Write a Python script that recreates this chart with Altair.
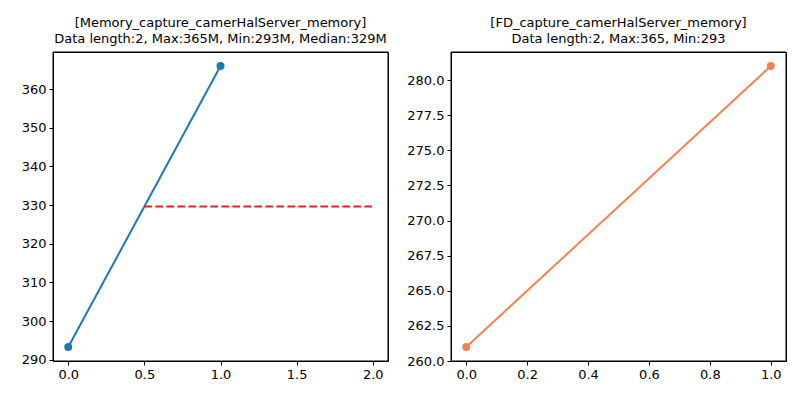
import altair as alt
import pandas as pd

# Left panel data
mem_x = [0, 1]
mem_y = [293.3, 366.0]
median_x = [0.5, 2.0]
median_y = [329.65, 329.65]

# Right panel data
fd_x = [0, 1]
fd_y = [261.0, 281.0]

left_title = ["[Memory_capture_camerHalServer_memory]",
              "Data length:2, Max:365M, Min:293M, Median:329M"]
right_title = ["[FD_capture_camerHalServer_memory]",
               "Data length:2, Max:365, Min:293"]

FONT = "DejaVu Sans"
W, H = 335, 309

mem_df = pd.DataFrame({"x": mem_x, "y": mem_y})
med_df = pd.DataFrame({"x": median_x, "y": median_y})
fd_df = pd.DataFrame({"x": fd_x, "y": fd_y})


def axis(values, fmt):
    return alt.Axis(values=values, format=fmt, grid=False, title=None,
                    tickSize=4, tickColor="black", domainColor="black",
                    labelColor="black", labelFont=FONT, labelFontSize=13,
                    labelPadding=3, tickWidth=1, domainWidth=1,
                    labelFlush=False, labelOverlap=False)


def frame():
    return alt.Chart(pd.DataFrame({"f": [0]})).mark_rect(
        fill=None, stroke="black", strokeWidth=1
    ).encode(x=alt.value(0), x2=alt.value(W), y=alt.value(0), y2=alt.value(H))


lx = alt.X("x:Q", scale=alt.Scale(domain=[-0.1, 2.1], nice=False, zero=False),
           axis=axis([0, 0.5, 1.0, 1.5, 2.0], ".1f"))
ly = alt.Y("y:Q", scale=alt.Scale(domain=[289.7, 369.6], nice=False, zero=False),
           axis=axis([290, 300, 310, 320, 330, 340, 350, 360], "d"))

left_line = alt.Chart(mem_df).mark_line(color="#1f77b4", strokeWidth=2).encode(x=lx, y=ly)
left_pts = alt.Chart(mem_df).mark_circle(color="#1f77b4", size=64, opacity=1).encode(x=lx, y=ly)
left_med = alt.Chart(med_df).mark_line(color="#d62728", strokeWidth=2,
                                       strokeDash=[7.7, 3.3]).encode(x=lx, y=ly)

left = alt.layer(left_line, left_pts, left_med, frame()).properties(
    width=W, height=H,
    title=alt.TitleParams(text=left_title, font=FONT, fontSize=13, fontWeight="normal",
                          color="black", anchor="middle", offset=6, lineHeight=16))

rx = alt.X("x:Q", scale=alt.Scale(domain=[-0.05, 1.05], nice=False, zero=False),
           axis=axis([0, 0.2, 0.4, 0.6, 0.8, 1.0], ".1f"))
ry = alt.Y("y:Q", scale=alt.Scale(domain=[260.0, 282.0], nice=False, zero=False),
           axis=axis([260, 262.5, 265, 267.5, 270, 272.5, 275, 277.5, 280], ".1f"))

right_line = alt.Chart(fd_df).mark_line(color="#f7804f", strokeWidth=2).encode(x=rx, y=ry)
right_pts = alt.Chart(fd_df).mark_circle(color="#f7804f", size=64, opacity=1).encode(x=rx, y=ry)

right = alt.layer(right_line, right_pts, frame()).properties(
    width=W, height=H,
    title=alt.TitleParams(text=right_title, font=FONT, fontSize=13, fontWeight="normal",
                          color="black", anchor="middle", offset=6, lineHeight=16))

chart = alt.hconcat(left, right, spacing=17).properties(
    padding={"left": 12, "top": 8, "right": 5, "bottom": 5}
).configure(
    background="white",
    view=alt.ViewConfig(stroke="black", strokeWidth=1),
)

chart.save("out.html", embed_options={"renderer": "svg", "actions": False})
